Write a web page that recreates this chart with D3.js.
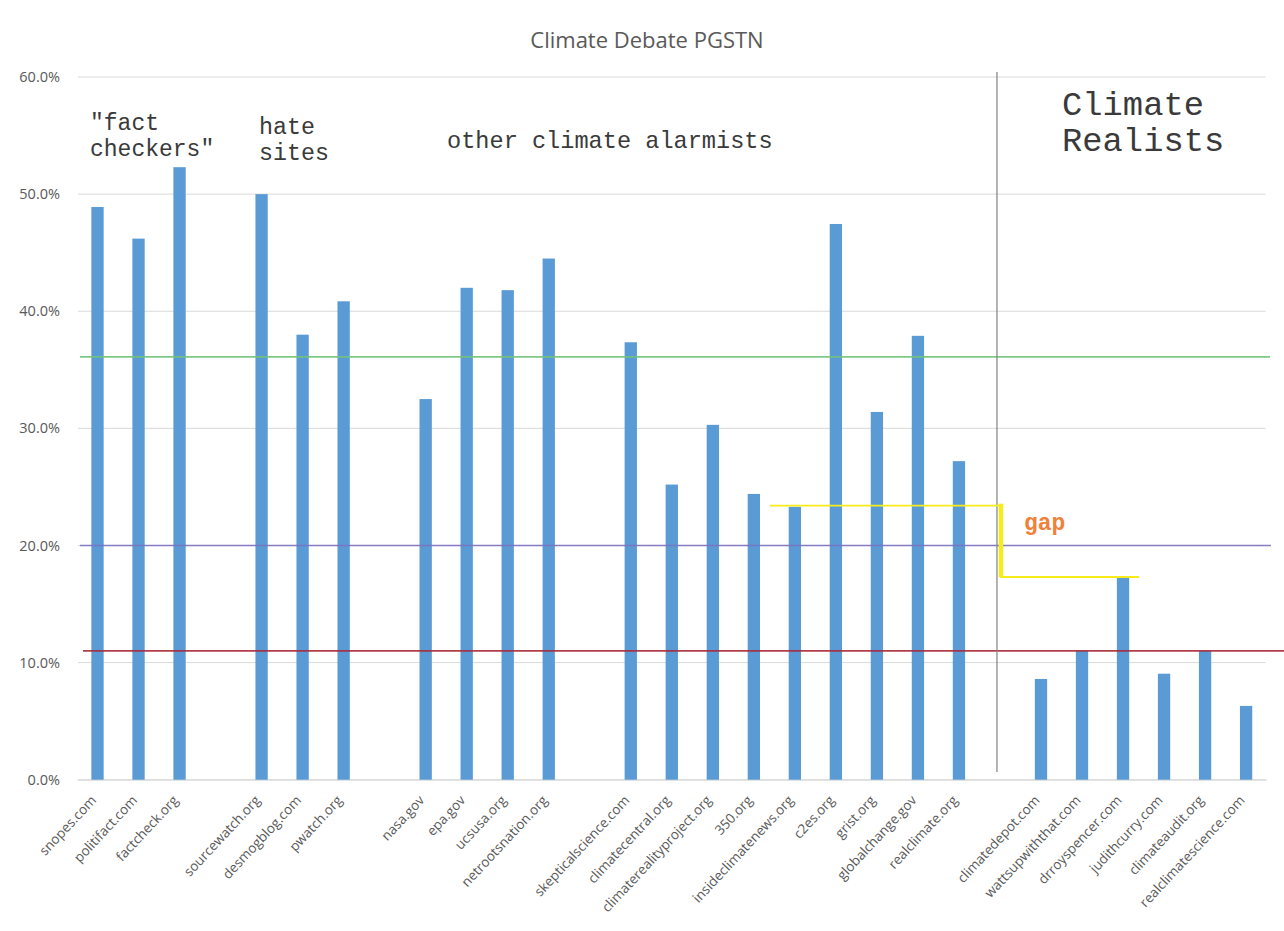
<!DOCTYPE html>
<html>
<head>
<meta charset="utf-8">
<script src="https://cdn.jsdelivr.net/npm/d3@7/dist/d3.min.js"></script>
<style>
  html, body { margin: 0; padding: 0; background: #ffffff; }
  svg { display: block; }
</style>
</head>
<body>
<svg id="chart" width="1284" height="931"></svg>
<script>
// ---- data ----
const categories = ["snopes.com","politifact.com","factcheck.org","",
  "sourcewatch.org","desmogblog.com","pwatch.org","",
  "nasa.gov","epa.gov","ucsusa.org","netrootsnation.org","",
  "skepticalscience.com","climatecentral.org","climaterealityproject.org","350.org",
  "insideclimatenews.org","c2es.org","grist.org","globalchange.gov","realclimate.org","",
  "climatedepot.com","wattsupwiththat.com","drroyspencer.com","judithcurry.com",
  "climateaudit.org","realclimatescience.com"];
const values = [48.9, 46.2, 52.3, null,
  50.0, 38.0, 40.85, null,
  32.5, 42.0, 41.8, 44.5, null,
  37.35, 25.2, 30.3, 24.4,
  23.3, 47.45, 31.4, 37.9, 27.2, null,
  8.6, 11.0, 17.3, 9.05,
  11.0, 6.3];
const yTicks = [0, 10, 20, 30, 40, 50, 60];
const refValues = [36.1, 20.0, 11.0];
const gapValues = [23.4, 17.3];
const title = "Climate Debate PGSTN";
const groupLabels = [
  ["\"fact", "checkers\""],
  ["hate", "sites"],
  ["other climate alarmists"],
  ["Climate", "Realists"]
];

// ---- layout ----
const svg = d3.select("#chart");
const plotL = 77, plotR = 1266.6, plotT = 77, plotB = 779.7;
const sans = "\"Open Sans\", \"Noto Sans\", sans-serif";
const mono = "\"Liberation Mono\", \"DejaVu Sans Mono\", monospace";

const x = d3.scaleBand().domain(d3.range(categories.length)).range([plotL, plotR]).paddingInner(0).paddingOuter(0);
const bw = x.bandwidth();
const barW = bw * 0.3;
const cx = i => x(i) + bw / 2;
const y = d3.scaleLinear().domain([0, 60]).range([plotB, plotT]);

// title
svg.append("text").attr("x", 647).attr("y", 48).attr("text-anchor", "middle")
  .style("font-family", sans).style("font-size", "22px").attr("fill", "#595959").text(title);

// gridlines
svg.append("g").selectAll("line").data(yTicks).join("line")
  .attr("x1", plotL + 1).attr("x2", plotR - 1)
  .attr("y1", d => y(d)).attr("y2", d => y(d))
  .attr("stroke", "#d9d9d9").attr("stroke-width", 1);

// y axis
const yAxis = svg.append("g").attr("transform", `translate(${plotL - 14},0)`)
  .call(d3.axisLeft(y).tickValues(yTicks).tickSize(0).tickFormat(d => d.toFixed(1) + "%"));
yAxis.select(".domain").remove();
yAxis.selectAll("text").attr("fill", "#595959")
  .style("font-family", sans).style("font-size", "14.5px");

// x axis
const xAxis = svg.append("g").attr("transform", `translate(0,${plotB})`)
  .call(d3.axisBottom(x).tickSize(0).tickFormat(i => categories[i]));
xAxis.select(".domain").attr("stroke", "#d9d9d9");
xAxis.selectAll("text")
  .attr("fill", "#595959")
  .style("font-family", sans).style("font-size", "13.5px")
  .attr("text-anchor", "end")
  .attr("transform", "translate(-4,18) rotate(-47)")
  .attr("dy", "0.35em").attr("y", 0).attr("x", 0);

// bars
svg.append("g").selectAll("rect")
  .data(values.map((v, i) => ({v, i})).filter(d => d.v !== null))
  .join("rect")
  .attr("x", d => cx(d.i) - barW / 2)
  .attr("width", barW)
  .attr("y", d => y(d.v))
  .attr("height", d => y(0) - y(d.v))
  .attr("fill", "#5b9bd5");

// reference lines
const refColors = ["#72c47a", "#7a72c0", "#a82a3a"];
const refX2 = [1270, 1271, 1284];
svg.append("g").selectAll("line").data(refValues).join("line")
  .attr("x1", (d, k) => k === 2 ? plotL + 6 : plotL + 3)
  .attr("x2", (d, k) => refX2[k])
  .attr("y1", d => y(d)).attr("y2", d => y(d))
  .attr("stroke", (d, k) => refColors[k]).attr("stroke-width", 1.6).attr("opacity", 0.9);

// separator
const sepX = cx(22) - 3;
svg.append("line").attr("x1", sepX).attr("x2", sepX)
  .attr("y1", 72).attr("y2", 772)
  .attr("stroke", "#808080").attr("stroke-width", 1.2);

// gap annotation
const yel = "#f7ec1a";
svg.append("line").attr("x1", cx(16) + 16).attr("x2", cx(22))
  .attr("y1", y(gapValues[0])).attr("y2", y(gapValues[0]))
  .attr("stroke", yel).attr("stroke-width", 1.8);
svg.append("line").attr("x1", cx(22)).attr("x2", cx(25) + 16)
  .attr("y1", y(gapValues[1])).attr("y2", y(gapValues[1]))
  .attr("stroke", yel).attr("stroke-width", 2);
svg.append("line").attr("x1", cx(22) + 1).attr("x2", cx(22) + 1)
  .attr("y1", y(gapValues[0]) - 2).attr("y2", y(gapValues[1]))
  .attr("stroke", yel).attr("stroke-width", 4.5);
svg.append("text").attr("x", 1024).attr("y", 530)
  .style("font-family", mono).style("font-weight", "bold").style("font-size", "23px")
  .attr("fill", "#f0813a").text("gap");

// group labels
const glPos = [
  {x: 90, y: 130, lh: 26, fs: 23},
  {x: 259, y: 134, lh: 26, fs: 23.3},
  {x: 447, y: 148, lh: 26, fs: 23.6},
  {x: 1062, y: 115, lh: 36, fs: 33.8}
];
groupLabels.forEach((g, k) => {
  const t = svg.append("text").style("font-family", mono)
    .style("font-size", glPos[k].fs + "px").attr("fill", "#3a3a3a");
  g.forEach((ln, j) => {
    t.append("tspan").attr("x", glPos[k].x).attr("y", glPos[k].y + j * glPos[k].lh).text(ln);
  });
});
</script>
</body>
</html>
